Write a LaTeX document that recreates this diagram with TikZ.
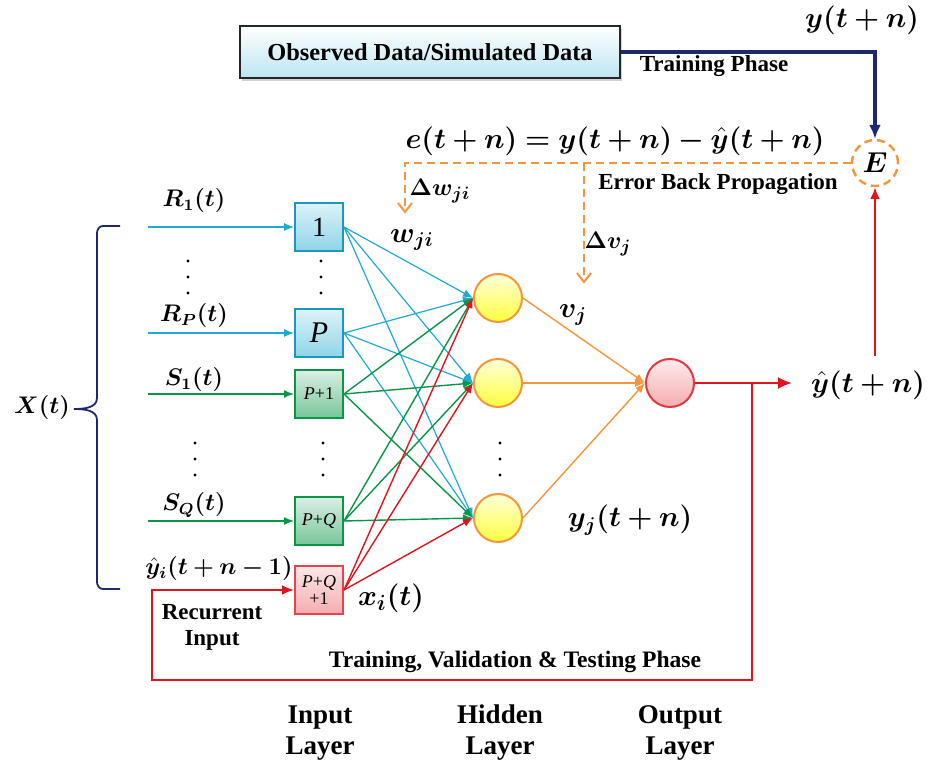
\documentclass[tikz,border=0pt]{standalone}
\usepackage{fontspec}
\usepackage{amsmath,bm}
\setmainfont{Liberation Serif}
\usetikzlibrary{arrows.meta,shadows}
\definecolor{cblue}{RGB}{30,170,210}
\definecolor{cgreen}{RGB}{10,150,70}
\definecolor{cred}{RGB}{225,20,30}
\definecolor{corange}{RGB}{245,150,60}
\definecolor{cnavy}{RGB}{30,40,110}
\tikzset{
  lbl/.style={font=\bfseries\fontsize{11.5}{13}\selectfont, inner sep=0pt},
  mlbl/.style={font=\fontsize{12}{13}\selectfont, inner sep=0pt},
  layerlbl/.style={font=\bfseries\fontsize{13.5}{15.5}\selectfont, align=center, inner sep=0pt},
  inbox/.style={draw, line width=1pt, minimum width=24pt, minimum height=24pt, inner sep=0pt, font=\fontsize{14}{15}\selectfont},
  bluebox/.style={inbox, draw=cblue!90!black, top color=cblue!15, bottom color=cblue!50},
  greenbox/.style={inbox, draw=cgreen, top color=cgreen!15, bottom color=cgreen!55, font=\fontsize{9}{9}\selectfont\itshape},
  redbox/.style={inbox, draw=cred!80, top color=cred!10, bottom color=cred!35, font=\fontsize{9}{9.5}\selectfont, align=center},
  hid/.style={circle, draw=corange, line width=1pt, minimum size=24pt, inner sep=0pt, top color=yellow!15, bottom color=yellow!75},
  outn/.style={circle, draw=cred!85, line width=1pt, minimum size=24pt, inner sep=0pt, top color=cred!8, bottom color=cred!35},
  wb/.style={cblue, line width=0.6pt, -{Latex[length=5pt,width=4pt]}},
  wg/.style={cgreen, line width=0.7pt, -{Latex[length=5pt,width=4pt]}},
  wr/.style={cred, line width=0.7pt, -{Latex[length=5pt,width=4pt]}},
  wo/.style={corange, line width=0.7pt, -{Latex[length=5pt,width=4pt]}},
  bp/.style={corange, line width=1.2pt, dash pattern=on 4pt off 2.5pt},
}
\begin{document}
\begin{tikzpicture}[x=0.5pt,y=-0.5pt]
\useasboundingbox (0,0) rectangle (932,763);
% observed box
\node[draw=black!85, line width=0.8pt, minimum width=190pt, minimum height=26pt, inner sep=0pt,
  top color=white, bottom color=cblue!30, drop shadow={opacity=0.35, shadow xshift=1pt, shadow yshift=-1.5pt},
  font=\bfseries\fontsize{12.2}{14}\selectfont] (obs) at (430,52) {Observed Data/Simulated Data};
\node[mlbl, font=\fontsize{14.5}{16}\selectfont] (yt) at (862,20) {$\bm{y(t+n)}$};
\node[lbl] (tp) at (714,66) {Training Phase};
% E circle
\node[circle, draw=corange, line width=1.2pt, dash pattern=on 4pt off 2.5pt, minimum size=23pt, inner sep=0pt,
  font=\fontsize{13.5}{14}\selectfont] (E) at (875,163) {$\bm{E}$};
\draw[cnavy, line width=1.8pt, -{Latex[length=7pt,width=6pt]}] (obs.east) -- (875,52) -- (E.north);
\node[mlbl, font=\fontsize{13.5}{15}\selectfont] (eq) at (615,141) {$\bm{e(t+n)=y(t+n)-\hat{y}(t+n)}$};
\node[lbl] (ebp) at (718,184) {Error Back Propagation};
% back propagation
\draw[bp] (E.west) -- (405,163) -- (405,208);
\draw[bp] (584,163) -- (584,278);
\draw[corange, line width=1pt] (398,203) -- (405,212) -- (412,203);
\draw[corange, line width=1pt] (577,273) -- (584,282) -- (591,273);
\node[mlbl, font=\fontsize{13}{15}\selectfont] (dw) at (440,191) {$\bm{\Delta w_{ji}}$};
\node[mlbl, font=\fontsize{13}{15}\selectfont] (dv) at (608,244) {$\bm{\Delta v_{j}}$};
% input boxes
\node[bluebox] (i1) at (319,227) {1};
\node[bluebox, font=\fontsize{15}{16}\selectfont\itshape] (iP) at (319,333) {P};
\node[greenbox] (iP1) at (319,394) {P\upshape+1};
\node[greenbox] (iPQ) at (319,521) {P\upshape+\itshape Q};
\node[redbox] (iR) at (319,590) {\itshape P\upshape+\itshape Q\\[-1pt]+1};
% hidden and output
\node[hid] (h1) at (498,298) {};
\node[hid] (h2) at (498,383) {};
\node[hid] (h3) at (498,518) {};
\node[outn] (o) at (670,383) {};
% input lines
\coordinate (s1) at (148,227);
\coordinate (s2) at (148,333);
\coordinate (s3) at (148,394);
\coordinate (s4) at (148,521);
\draw[wb] (s1) -- (i1.west);
\draw[wb] (s2) -- (iP.west);
\draw[wg] (s3) -- (iP1.west);
\draw[wg] (s4) -- (iPQ.west);
\node[mlbl] (lR1) at (194,201) {$\bm{R_1(t)}$};
\node[mlbl] (lRP) at (194,316) {$\bm{R_P(t)}$};
\node[mlbl] (lS1) at (194,380) {$\bm{S_1(t)}$};
\node[mlbl] (lSQ) at (194,505) {$\bm{S_Q(t)}$};
\node[mlbl] (lyi) at (219,569) {$\bm{\hat{y}_i(t+n-1)}$};
% dots
\foreach \x/\y in {188/277, 321/277, 195/459, 323/459, 500/459}{
  \fill (\x,\y-16) circle (1.7) (\x,\y) circle (1.7) (\x,\y+16) circle (1.7);
}
% connections
\foreach \h in {h1,h2,h3}{
  \draw[wb] (i1.east) -- (\h.west);
  \draw[wb] (iP.east) -- (\h.west);
}
\foreach \h in {h1,h2,h3}{
  \draw[wg] (iP1.east) -- (\h.west);
  \draw[wg] (iPQ.east) -- (\h.west);
}
\foreach \h in {h1,h2,h3}{
  \draw[wr] (iR.east) -- (\h.west);
}
\foreach \h in {h1,h2,h3}{
  \draw[wo] (\h.east) -- (o.west);
}
\node[mlbl, font=\fontsize{14}{15}\selectfont] (lw) at (412,240) {$\bm{w_{ji}}$};
\node[mlbl, font=\fontsize{14}{15}\selectfont] (lv) at (573,315) {$\bm{v_{j}}$};
\node[mlbl, font=\fontsize{14}{15}\selectfont] (lyj) at (630,520) {$\bm{y_j(t+n)}$};
\node[mlbl, font=\fontsize{15}{16}\selectfont] (lxi) at (391,598) {$\bm{x_i(t)}$};
% output
\node[mlbl, font=\fontsize{15.5}{17}\selectfont] (yhat) at (868,385) {$\bm{\hat{y}(t+n)}$};
\coordinate (oa) at (792,383);
\coordinate (jn) at (752,383);
\coordinate (ey) at (875,356);
\draw[cred, line width=1.2pt, -{Latex[length=7pt,width=6pt]}] (o.east) -- (oa);
\draw[cred, line width=1.2pt, -{Latex[length=6pt,width=5pt]}] (jn) -- (752,680) -- (152,680) -- (152,590) -- (iR.west);
\draw[cred, line width=1.2pt, -{Latex[length=6pt,width=5pt]}] (ey) -- (E.south);
\node[lbl, align=center] (rec) at (212,627) {Recurrent\\Input};
\node[lbl, font=\bfseries\fontsize{11.8}{13}\selectfont] (tvt) at (515,662) {Training, Validation \& Testing Phase};
% brace
\draw[cnavy, line width=0.9pt] (120,226) -- (103,226) to[out=180,in=90] (97,233) -- (97,398) to[out=-90,in=0] (74,409)
  to[out=0,in=90] (97,420) -- (97,582) to[out=-90,in=180] (103,589) -- (120,589);
\node[mlbl, font=\fontsize{12.5}{14}\selectfont] (X) at (42,408) {$\bm{X(t)}$};
% layer labels
\node[layerlbl] (L1) at (320,733) {Input\\Layer};
\node[layerlbl] (L2) at (500,733) {Hidden\\Layer};
\node[layerlbl] (L3) at (680,733) {Output\\Layer};
\end{tikzpicture}
\end{document}
